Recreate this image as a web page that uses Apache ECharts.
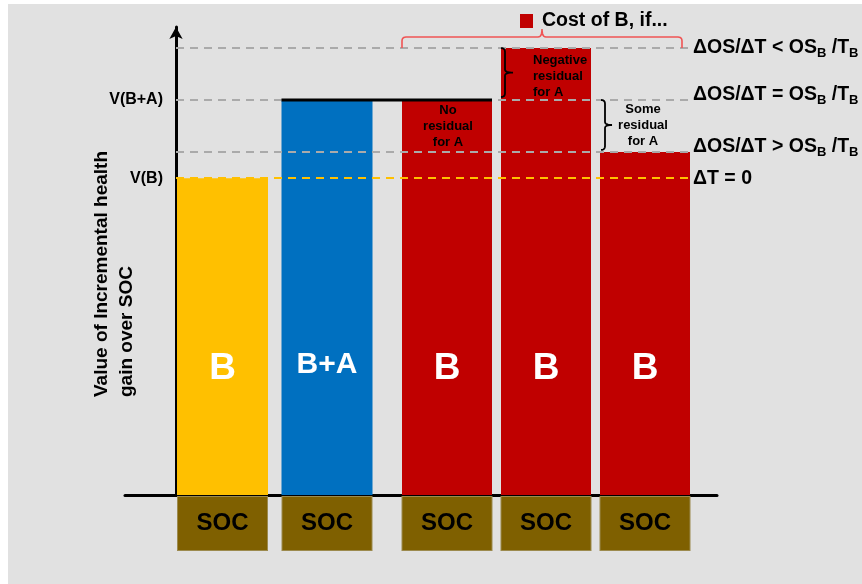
<!DOCTYPE html>
<html><head><meta charset="utf-8">
<script src="https://cdn.jsdelivr.net/npm/echarts@6/dist/echarts.min.js"></script>
<style>
html,body{margin:0;padding:0;background:#fff;}
#chart{width:862px;height:584px;background:#e1e1e1;box-shadow:inset 8px 4px 0 0 #fff;}
</style></head><body><div id="chart"></div>
<script>
// ---- data ----
const refLabels = ['B', 'B+A'];
const refValues = [67.7, 84.4];
const costLabels = ['B', 'B', 'B'];
const costValues = [84.4, 95.5, 73.3];
const refCats = ['SOC', 'SOC'];
const costCats = ['SOC', 'SOC', 'SOC'];
const yTickValues = [67.7, 84.4];
const yTickLabels = ['V(B)', 'V(B+A)'];
const thresholdValues = [95.5, 84.4, 73.3, 67.7];
const thresholdLabels = [
  '{m|ΔOS/ΔT < OS}{s|B}{m| /T}{s|B}',
  '{m|ΔOS/ΔT = OS}{s|B}{m| /T}{s|B}',
  '{m|ΔOS/ΔT > OS}{s|B}{m| /T}{s|B}',
  '{m|ΔT = 0}'
];
const costNotes = ['No\nresidual\nfor A', 'Negative\nresidual\nfor A', 'Some\nresidual\nfor A'];
const legendName = 'Cost of B, if...';
const yTitle = 'Value of Incremental health\ngain over SOC';

// ---- styles ----
const FONT = 'Liberation Sans, Arial, sans-serif';
const refColors = ['#ffc000', '#0070c0'];
const costColor = '#c00000';
const refBarW = 91, costBarW = 90;
const TOP = 27, BOTTOM = 89;

const chart = echarts.init(document.getElementById('chart'), null, {renderer: 'canvas'});

const socLabel = {
  interval: 0, margin: 2, color: '#000', fontSize: 24, fontWeight: 'bold', fontFamily: FONT,
  backgroundColor: '#7f6000', borderColor: '#9c8a4e', borderWidth: 1,
  width: 89, height: 53, lineHeight: 53, align: 'center', verticalAlign: 'top'
};
const barLabel = (txt, fs, dist) => ({
  show: true, position: 'insideBottom', distance: dist, color: '#fff',
  fontWeight: 'bold', fontSize: fs, fontFamily: FONT, formatter: () => txt
});

chart.setOption({
  animation: false,
  grid: [
    {left: 176, right: 172, top: TOP, bottom: BOTTOM},
    {left: 170.25, width: 209, top: TOP, bottom: BOTTOM},
    {left: 397.5, width: 297, top: TOP, bottom: BOTTOM},
    {left: 125, width: 592, top: TOP, bottom: BOTTOM}
  ],
  legend: {
    data: [legendName], left: 520, top: 11, itemWidth: 13, itemHeight: 14, icon: 'rect',
    padding: 0, selectedMode: false,
    textStyle: {fontSize: 19.5, fontWeight: 'bold', color: '#000', fontFamily: FONT, padding: [0, 0, 0, 4]}
  },
  xAxis: [
    {gridIndex: 0, type: 'value', min: 0, max: 1, show: false},
    {gridIndex: 1, type: 'category', data: refCats, axisLine: {show: false}, axisTick: {show: false}, axisLabel: socLabel},
    {gridIndex: 2, type: 'category', data: costCats, axisLine: {show: false}, axisTick: {show: false}, axisLabel: socLabel},
    {gridIndex: 3, type: 'value', min: 0, max: 1, axisLine: {show: true, lineStyle: {color: '#000', width: 3}},
     axisTick: {show: false}, axisLabel: {show: false}, splitLine: {show: false}}
  ],
  yAxis: [
    {gridIndex: 0, type: 'value', min: 0, max: 100,
     axisLine: {show: true, symbol: ['none', 'arrow'], symbolSize: [10, 12], lineStyle: {color: '#000', width: 3}},
     axisTick: {show: false}, splitLine: {show: false},
     axisLabel: {customValues: yTickValues, margin: 13, color: '#000', fontWeight: 'bold', fontSize: 16, fontFamily: FONT,
       padding: [5, 0, 0, 0],
       formatter: v => yTickLabels[yTickValues.indexOf(v)] || ''}},
    {gridIndex: 1, type: 'value', min: 0, max: 100, show: false},
    {gridIndex: 2, type: 'value', min: 0, max: 100, show: false},
    {gridIndex: 3, type: 'value', min: 0, max: 100, show: false}
  ],
  series: [
    {
      type: 'bar', name: 'Reference', xAxisIndex: 1, yAxisIndex: 1, barWidth: refBarW,
      data: refValues.map((v, i) => ({
        value: v, itemStyle: {color: refColors[i]},
        label: i === 0 ? barLabel(refLabels[i], 37, 108) : barLabel(refLabels[i], 30, 115)
      }))
    },
    {
      type: 'bar', name: legendName, xAxisIndex: 2, yAxisIndex: 2, barWidth: costBarW,
      itemStyle: {color: costColor},
      data: costValues.map((v, i) => ({value: v, label: barLabel(costLabels[i], 37, 108)}))
    },
    {
      type: 'line', name: 'thresholds', xAxisIndex: 0, yAxisIndex: 0, data: [], z: 10,
      markLine: {
        symbol: ['none', 'none'], silent: true, animation: false,
        data: thresholdValues.map((v, i) => ({
          yAxis: v,
          lineStyle: {type: [8, 6], width: 2, color: i === 3 ? '#ffc000' : '#aaaaaa'},
          label: {
            show: true, position: 'end', distance: 3,
            padding: (i === 1 || i === 2) ? [0, 0, 10, 0] : 0,
            formatter: () => thresholdLabels[i],
            rich: {
              m: {fontSize: 19.5, fontWeight: 'bold', color: '#000', fontFamily: FONT, lineHeight: 24},
              s: {fontSize: 13, fontWeight: 'bold', color: '#000', fontFamily: FONT, lineHeight: 14, padding: [10, 0, 0, 0]}
            }
          }
        }))
      }
    }
  ]
});

// ---- annotations positioned through the chart's own coordinate system ----
const px = (g, i, v) => chart.convertToPixel({gridIndex: g}, [i, v]);
const blue = px(1, 1, refValues[1]);
const r1 = px(2, 0, costValues[0]);
const r2 = px(2, 1, costValues[1]);
const r3 = px(2, 2, costValues[2]);
const yBA = blue[1];
const hw = costBarW / 2;

// turn M/L/Q commands into polyline points
function pts(cmds) {
  const out = [];
  let cur = null;
  cmds.forEach(c => {
    if (c[0] === 'M' || c[0] === 'L') { cur = [c[1], c[2]]; out.push(cur); }
    else if (c[0] === 'Q') {
      const [cx, cy, x, y] = c.slice(1);
      for (let t = 1; t <= 6; t++) {
        const s = t / 6, u = 1 - s;
        out.push([u * u * cur[0] + 2 * u * s * cx + s * s * x, u * u * cur[1] + 2 * u * s * cy + s * s * y]);
      }
      cur = [x, y];
    }
  });
  return out;
}
function curly(x, y1, y2, w) {
  const ym = (y1 + y2) / 2;
  return pts([['M', x - 4, y1], ['Q', x, y1, x, y1 + 4], ['L', x, ym - 3], ['Q', x, ym, x + w, ym],
    ['Q', x, ym, x, ym + 3], ['L', x, y2 - 4], ['Q', x, y2, x - 4, y2]]);
}
const bl = r1[0] - hw, br = r3[0] + hw - 8, bm = (bl + br) / 2, bb = r2[1], bh = bb - 11, bp = bb - 19;
const redBrace = pts([['M', bl, bb], ['L', bl, bh + 4], ['Q', bl, bh, bl + 4, bh], ['L', bm - 4, bh], ['Q', bm, bh, bm, bp],
  ['Q', bm, bh, bm + 4, bh], ['L', br - 4, bh], ['Q', br, bh, br, bh + 4], ['L', br, bb]]);

const noteStyle = (txt, align) => ({text: txt, fontSize: 13, fontWeight: 'bold', fontFamily: FONT, fill: '#000',
  align: align, verticalAlign: 'top', lineHeight: 16});

chart.setOption({
  graphic: [
    {type: 'line', z: 100, shape: {x1: blue[0] - refBarW / 2, y1: yBA, x2: r1[0] + hw, y2: yBA},
     style: {stroke: '#000', lineWidth: 3}},
    {type: 'polyline', z: 100, shape: {points: redBrace}, style: {fill: null, stroke: '#f05454', lineWidth: 1.6}},
    {type: 'polyline', z: 100, shape: {points: curly(r2[0] - hw + 4, r2[1], yBA - 3, 8)}, style: {fill: null, stroke: '#000', lineWidth: 1.8}},
    {type: 'polyline', z: 100, shape: {points: curly(r3[0] - hw + 5, yBA, r3[1] - 2, 7)}, style: {fill: null, stroke: '#000', lineWidth: 1.8}},
    {type: 'text', z: 100, x: r1[0] + 1, y: r1[1] + 2, style: noteStyle(costNotes[0], 'center')},
    {type: 'text', z: 100, x: r2[0] - hw + 32, y: r2[1] + 4, style: noteStyle(costNotes[1], 'left')},
    {type: 'text', z: 100, x: r3[0] - 2, y: yBA + 1, style: noteStyle(costNotes[2], 'center')},
    {type: 'text', z: 100, x: 114, y: 397, rotation: Math.PI / 2,
     style: {text: yTitle, fontSize: 19, fontWeight: 'bold', fontFamily: FONT, fill: '#000',
       align: 'left', verticalAlign: 'middle', lineHeight: 25}}
  ]
});
</script></body></html>
